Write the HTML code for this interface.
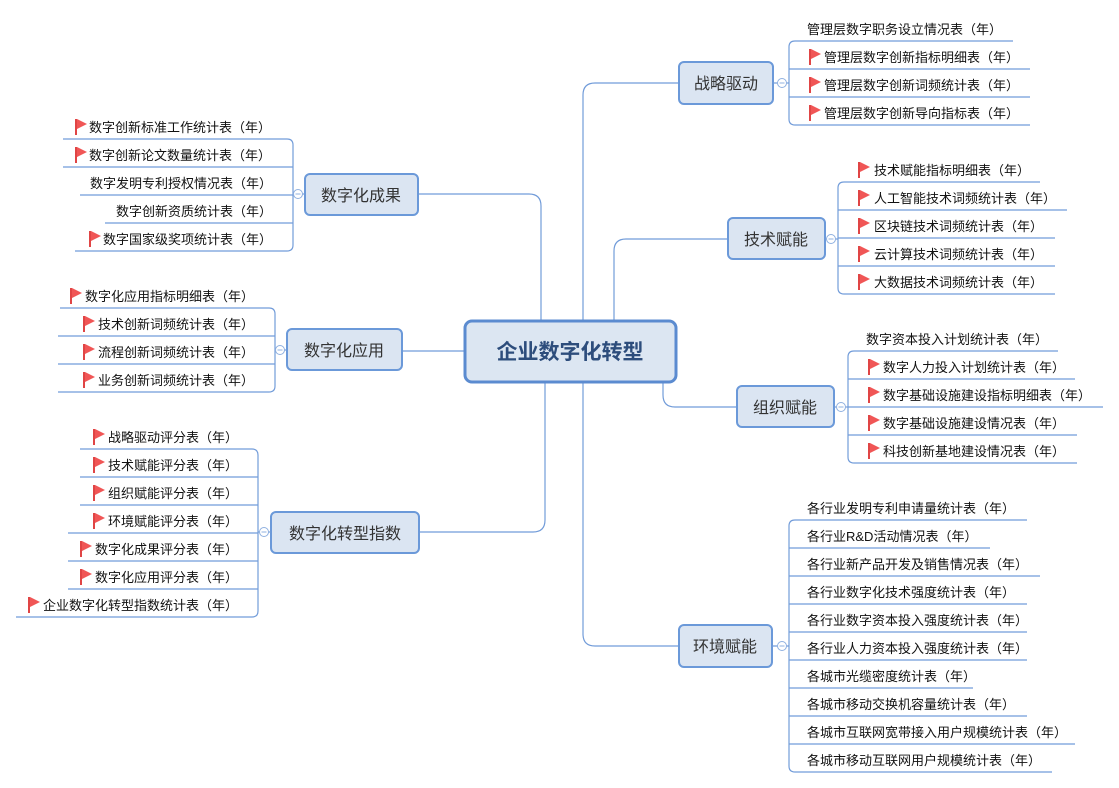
<!DOCTYPE html>
<html><head><meta charset="utf-8"><style>
html,body{margin:0;padding:0;background:#fff;width:1119px;height:788px;overflow:hidden}
svg{display:block}
text{font-family:"Liberation Sans","Noto Sans CJK SC",sans-serif}
.t{font-size:13px;fill:#111}
.n{font-size:16px;fill:#333}
.l{fill:none;stroke:#729cd9;stroke-width:1.2}
.box{fill:#dbe5f2;stroke:#6b99d9;stroke-width:2}
.c{fill:#fff;stroke:#8fb0e0;stroke-width:1}
</style></head><body>
<svg width="1119" height="788" viewBox="0 0 1119 788" xmlns="http://www.w3.org/2000/svg">
<defs>
<symbol id="f" viewBox="0 0 12 16" width="12" height="16">
<rect x="0" y="0" width="2" height="16" fill="#e04545"/>
<path d="M2 0 L12 5 L2 10 Z" fill="#f05656"/>
</symbol>
</defs>

<path class="l" d="M583 320 V95 Q583 83 595 83 H679"/>
<path class="l" d="M614 320 V251 Q614 239 626 239 H728"/>
<path class="l" d="M663 382 V395 Q663 407 675 407 H737"/>
<path class="l" d="M583 382 V634 Q583 646 595 646 H679"/>
<path class="l" d="M541 320 V206 Q541 194 529 194 H418"/>
<path class="l" d="M464 351 H402"/>
<path class="l" d="M545 382 V520 Q545 532 533 532 H419"/>

<rect x="465" y="321" width="211" height="61" rx="7" fill="#dce6f2" stroke="#5b8bd0" stroke-width="3"/>
<text x="570" y="359" text-anchor="middle" style="font-size:21px;font-weight:bold;fill:#2d4d7c">企业数字化转型</text>

<rect class="box" x="679" y="62" width="94" height="42" rx="5"/>
<text class="n" x="726" y="89" text-anchor="middle">战略驱动</text>
<path class="l" d="M773 83 H789"/>
<path class="l" d="M1013 41 H795 Q789 41 789 47 V119 Q789 125 795 125 H1030 M789 69 H1030 M789 97 H1030"/>
<circle class="c" cx="782" cy="83" r="4.5"/><path d="M779.5 83 H784.5" stroke="#8fb0e0"/>
<text class="t" x="807" y="34">管理层数字职务设立情况表（年）</text>
<use href="#f" x="809" y="49"/><text class="t" x="824" y="62">管理层数字创新指标明细表（年）</text>
<use href="#f" x="809" y="77"/><text class="t" x="824" y="90">管理层数字创新词频统计表（年）</text>
<use href="#f" x="809" y="105"/><text class="t" x="824" y="118">管理层数字创新导向指标表（年）</text>

<rect class="box" x="728" y="218" width="97" height="41" rx="5"/>
<text class="n" x="776" y="245" text-anchor="middle">技术赋能</text>
<path class="l" d="M825 239 H838"/>
<path class="l" d="M1040 182 H844 Q838 182 838 188 V288 Q838 294 844 294 H1055 M838 210 H1067 M838 238 H1055 M838 266 H1055"/>
<circle class="c" cx="831" cy="239" r="4.5"/><path d="M828.5 239 H833.5" stroke="#8fb0e0"/>
<use href="#f" x="858" y="162"/><text class="t" x="874" y="175">技术赋能指标明细表（年）</text>
<use href="#f" x="858" y="190"/><text class="t" x="874" y="203">人工智能技术词频统计表（年）</text>
<use href="#f" x="858" y="218"/><text class="t" x="874" y="231">区块链技术词频统计表（年）</text>
<use href="#f" x="858" y="246"/><text class="t" x="874" y="259">云计算技术词频统计表（年）</text>
<use href="#f" x="858" y="274"/><text class="t" x="874" y="287">大数据技术词频统计表（年）</text>

<rect class="box" x="737" y="386" width="97" height="41" rx="5"/>
<text class="n" x="785" y="413" text-anchor="middle">组织赋能</text>
<path class="l" d="M834 407 H848"/>
<path class="l" d="M1058 351 H854 Q848 351 848 357 V457 Q848 463 854 463 H1077 M848 379 H1075 M848 407 H1103 M848 435 H1077"/>
<circle class="c" cx="841" cy="407" r="4.5"/><path d="M838.5 407 H843.5" stroke="#8fb0e0"/>
<text class="t" x="866" y="344">数字资本投入计划统计表（年）</text>
<use href="#f" x="868" y="359"/><text class="t" x="883" y="372">数字人力投入计划统计表（年）</text>
<use href="#f" x="868" y="387"/><text class="t" x="883" y="400">数字基础设施建设指标明细表（年）</text>
<use href="#f" x="868" y="415"/><text class="t" x="883" y="428">数字基础设施建设情况表（年）</text>
<use href="#f" x="868" y="443"/><text class="t" x="883" y="456">科技创新基地建设情况表（年）</text>

<rect class="box" x="679" y="625" width="93" height="42" rx="5"/>
<text class="n" x="725" y="652" text-anchor="middle">环境赋能</text>
<path class="l" d="M772 646 H789"/>
<path class="l" d="M1027 520 H795 Q789 520 789 526 V766 Q789 772 795 772 H1052 M789 548 H990 M789 576 H1040 M789 604 H1027 M789 632 H1027 M789 660 H1027 M789 688 H973 M789 716 H1027 M789 744 H1075"/>
<circle class="c" cx="782" cy="646" r="4.5"/><path d="M779.5 646 H784.5" stroke="#8fb0e0"/>
<text class="t" x="807" y="513">各行业发明专利申请量统计表（年）</text>
<text class="t" x="807" y="541">各行业R&amp;D活动情况表（年）</text>
<text class="t" x="807" y="569">各行业新产品开发及销售情况表（年）</text>
<text class="t" x="807" y="597">各行业数字化技术强度统计表（年）</text>
<text class="t" x="807" y="625">各行业数字资本投入强度统计表（年）</text>
<text class="t" x="807" y="653">各行业人力资本投入强度统计表（年）</text>
<text class="t" x="807" y="681">各城市光缆密度统计表（年）</text>
<text class="t" x="807" y="709">各城市移动交换机容量统计表（年）</text>
<text class="t" x="807" y="737">各城市互联网宽带接入用户规模统计表（年）</text>
<text class="t" x="807" y="765">各城市移动互联网用户规模统计表（年）</text>

<rect class="box" x="305" y="174" width="113" height="41" rx="5"/>
<text class="n" x="361" y="201" text-anchor="middle">数字化成果</text>
<path class="l" d="M305 194 H293"/>
<path class="l" d="M63 139 H287 Q293 139 293 145 V245 Q293 251 287 251 H75 M293 167 H63 M293 195 H80 M293 223 H105"/>
<circle class="c" cx="298" cy="194" r="4.5"/><path d="M295.5 194 H300.5" stroke="#8fb0e0"/>
<use href="#f" x="75" y="119"/><text class="t" x="89" y="132">数字创新标准工作统计表（年）</text>
<use href="#f" x="75" y="147"/><text class="t" x="89" y="160">数字创新论文数量统计表（年）</text>
<text class="t" x="90" y="188">数字发明专利授权情况表（年）</text>
<text class="t" x="116" y="216">数字创新资质统计表（年）</text>
<use href="#f" x="89" y="231"/><text class="t" x="103" y="244">数字国家级奖项统计表（年）</text>

<rect class="box" x="287" y="329" width="115" height="41" rx="5"/>
<text class="n" x="344" y="356" text-anchor="middle">数字化应用</text>
<path class="l" d="M287 350 H275"/>
<path class="l" d="M60 308 H269 Q275 308 275 314 V386 Q275 392 269 392 H58 M275 336 H58 M275 364 H58"/>
<circle class="c" cx="280" cy="350" r="4.5"/><path d="M277.5 350 H282.5" stroke="#8fb0e0"/>
<use href="#f" x="70" y="288"/><text class="t" x="85" y="301">数字化应用指标明细表（年）</text>
<use href="#f" x="83" y="316"/><text class="t" x="98" y="329">技术创新词频统计表（年）</text>
<use href="#f" x="83" y="344"/><text class="t" x="98" y="357">流程创新词频统计表（年）</text>
<use href="#f" x="83" y="372"/><text class="t" x="98" y="385">业务创新词频统计表（年）</text>

<rect class="box" x="271" y="512" width="148" height="41" rx="5"/>
<text class="n" x="345" y="539" text-anchor="middle">数字化转型指数</text>
<path class="l" d="M271 532 H258"/>
<path class="l" d="M80 449 H252 Q258 449 258 455 V611 Q258 617 252 617 H16 M258 477 H80 M258 505 H80 M258 533 H68 M258 561 H68 M258 589 H68"/>
<circle class="c" cx="264" cy="532" r="4.5"/><path d="M261.5 532 H266.5" stroke="#8fb0e0"/>
<use href="#f" x="93" y="429"/><text class="t" x="108" y="442">战略驱动评分表（年）</text>
<use href="#f" x="93" y="457"/><text class="t" x="108" y="470">技术赋能评分表（年）</text>
<use href="#f" x="93" y="485"/><text class="t" x="108" y="498">组织赋能评分表（年）</text>
<use href="#f" x="93" y="513"/><text class="t" x="108" y="526">环境赋能评分表（年）</text>
<use href="#f" x="80" y="541"/><text class="t" x="95" y="554">数字化成果评分表（年）</text>
<use href="#f" x="80" y="569"/><text class="t" x="95" y="582">数字化应用评分表（年）</text>
<use href="#f" x="28" y="597"/><text class="t" x="43" y="610">企业数字化转型指数统计表（年）</text>
</svg>
</body></html>
